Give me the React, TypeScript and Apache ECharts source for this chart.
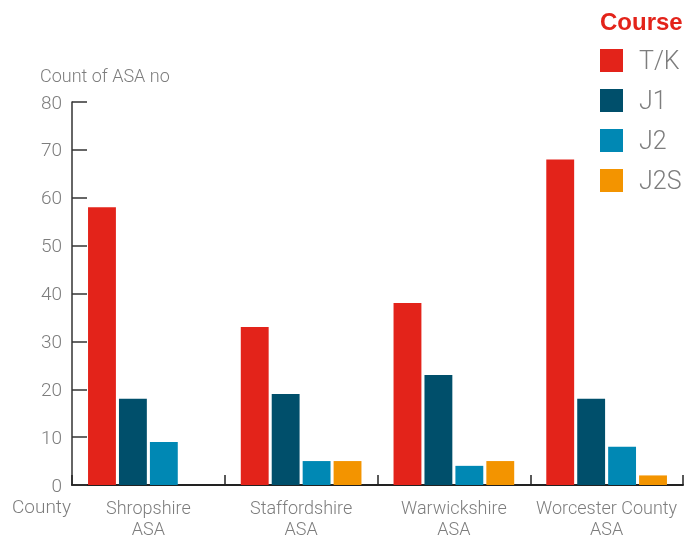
import React, { useEffect, useRef } from "react";
import * as echarts from "echarts";

const categories = ["Shropshire\nASA", "Staffordshire\nASA", "Warwickshire\nASA", "Worcester County\nASA"];
const seriesNames = ["T/K", "J1", "J2", "J2S"];
const tkValues = [58, 33, 38, 68];
const j1Values = [18, 19, 23, 18];
const j2Values = [9, 5, 4, 8];
const j2sValues = [0, 5, 5, 2];
const colors = ["#e3231a", "#004f6b", "#0088b4", "#f39400"];

const FONT = "Roboto";
const GREY = "#7d7d7d";

export default function App() {
  const ref = useRef<HTMLDivElement>(null);
  useEffect(() => {
    const chart = echarts.init(ref.current!, null, { renderer: "svg" });
    const values = [tkValues, j1Values, j2Values, j2sValues];
    chart.setOption({
      animation: false,
      textStyle: { fontFamily: FONT },
      grid: { left: 72, right: 17, top: 102, bottom: 52 },
      title: {
        text: "Course",
        left: 595,
        top: 4,
        textStyle: { fontFamily: "Liberation Sans", fontWeight: "bold", fontSize: 24, color: "#e3231a" },
      },
      legend: {
        orient: "vertical",
        left: 600,
        top: 48,
        padding: 0,
        itemWidth: 23,
        itemHeight: 23,
        itemGap: 15,
        icon: "rect",
        data: seriesNames,
        textStyle: { fontFamily: FONT, fontWeight: 300, fontSize: 25, color: GREY, padding: [0, 0, 0, 11] },
      },
      xAxis: {
        type: "category",
        data: categories,
        axisLine: { lineStyle: { color: "#222", width: 2 } },
        axisTick: { show: true, inside: true, length: 10, lineStyle: { color: "#222", width: 1.5 } },
        axisLabel: { interval: 0, fontFamily: FONT, fontWeight: 300, fontSize: 18, color: GREY, lineHeight: 21, margin: 12 },
      },
      yAxis: {
        type: "value",
        min: 0,
        max: 80,
        interval: 10,
        splitLine: { show: false },
        axisLine: { show: true, lineStyle: { color: "#333", width: 1.5 } },
        axisTick: { show: true, inside: true, length: 15, lineStyle: { color: "#333", width: 1.5 } },
        axisLabel: { fontFamily: FONT, fontWeight: 300, fontSize: 19, color: GREY, margin: 10 },
      },
      graphic: [
        {
          type: "text",
          left: 40,
          top: 66,
          style: { text: "Count of ASA no", fontFamily: FONT, fontWeight: 300, fontSize: 18, fill: GREY },
        },
        {
          type: "text",
          left: 12,
          top: 497,
          style: { text: "County", fontFamily: FONT, fontWeight: 300, fontSize: 19, fill: GREY },
        },
      ],
      series: seriesNames.map((name, i) => ({
        name,
        type: "bar",
        data: values[i],
        barGap: "11%",
        barCategoryGap: "21%",
        itemStyle: { color: colors[i] },
      })),
    });
    return () => chart.dispose();
  }, []);
  return <div ref={ref} style={{ position: "fixed", left: 0, top: 0, width: 700, height: 539 }} />;
}
